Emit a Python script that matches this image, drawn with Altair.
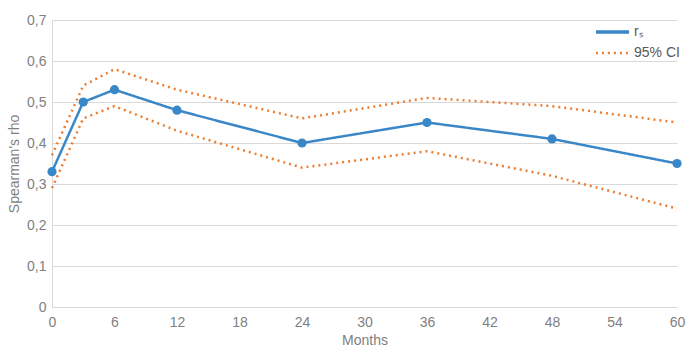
import altair as alt
import pandas as pd

months = [0, 3, 6, 12, 24, 36, 48, 60]
rs = [0.33, 0.50, 0.53, 0.48, 0.40, 0.45, 0.41, 0.35]
ci_upper = [0.37, 0.54, 0.58, 0.53, 0.46, 0.51, 0.49, 0.45]
ci_lower = [0.29, 0.46, 0.49, 0.43, 0.34, 0.38, 0.32, 0.24]
x_ticks = [0, 6, 12, 18, 24, 30, 36, 42, 48, 54, 60]
y_ticks = [0, 0.1, 0.2, 0.3, 0.4, 0.5, 0.6, 0.7]

RS = "r\u209b"
CI = "95% CI"

rows = []
for m, v in zip(months, rs):
    rows.append({"month": m, "value": v, "series": RS, "bound": "rs"})
for m, v in zip(months, ci_upper):
    rows.append({"month": m, "value": v, "series": CI, "bound": "upper"})
for m, v in zip(months, ci_lower):
    rows.append({"month": m, "value": v, "series": CI, "bound": "lower"})
df = pd.DataFrame(rows)

BLUE = "#3A87C8"
ORANGE = "#ED7D31"
GRAY = "#7F7F7F"

x = alt.X("month:Q", title="Months",
          scale=alt.Scale(domain=[0, 60], nice=False),
          axis=alt.Axis(values=x_ticks, grid=False, ticks=False, labelPadding=8,
                        labelFlush=False, domainColor="#D9D9D9", titlePadding=4))
y = alt.Y("value:Q", title="Spearman's rho",
          scale=alt.Scale(domain=[0, 0.7], nice=False),
          axis=alt.Axis(values=y_ticks, ticks=False, labelPadding=6, labelFlush=False,
                        labelExpr="replace(format(datum.value, '.1~f'), '.', ',')",
                        gridColor="#D9D9D9", domainColor="#D9D9D9",
                        titleX=-31))

order = [RS, CI]
leg = dict(title=None, orient="none", legendX=542, legendY=2,
           symbolType="stroke", symbolSize=1100, clipHeight=20,
           symbolStrokeWidth=3, labelFontSize=14,
           labelColor="#595959", rowPadding=1, labelOffset=3,
           labelFont="Liberation Sans")
lines = alt.Chart(df).mark_line(strokeWidth=2.5).encode(
    x=x, y=y,
    color=alt.Color("series:N", scale=alt.Scale(domain=order, range=[BLUE, ORANGE]),
                    legend=alt.Legend(**leg)),
    strokeDash=alt.StrokeDash("series:N", scale=alt.Scale(domain=order, range=[[1, 0], [2, 4]]),
                              legend=alt.Legend(**leg)),
    strokeWidth=alt.StrokeWidth("series:N", scale=alt.Scale(domain=order, range=[3.5, 2.5]), legend=None),
    detail="bound:N",
)

points = alt.Chart(df[df["bound"] == "rs"]).mark_point(filled=True, size=85, opacity=1, color=BLUE).encode(
    x=x, y=y,
)

chart = alt.layer(lines, points).properties(
    width=625, height=287,
    padding={"left": 52, "top": 20, "right": 21, "bottom": 44},
    autosize=alt.AutoSizeParams(type="none"),
).configure_view(stroke=None).configure_axis(
    labelFont="Liberation Sans", titleFont="Liberation Sans",
    labelFontSize=14, titleFontSize=14, labelColor=GRAY, titleColor=GRAY,
    titleFontWeight="normal",
)

chart.save("out.html", embed_options={"renderer": "svg", "actions": False})
